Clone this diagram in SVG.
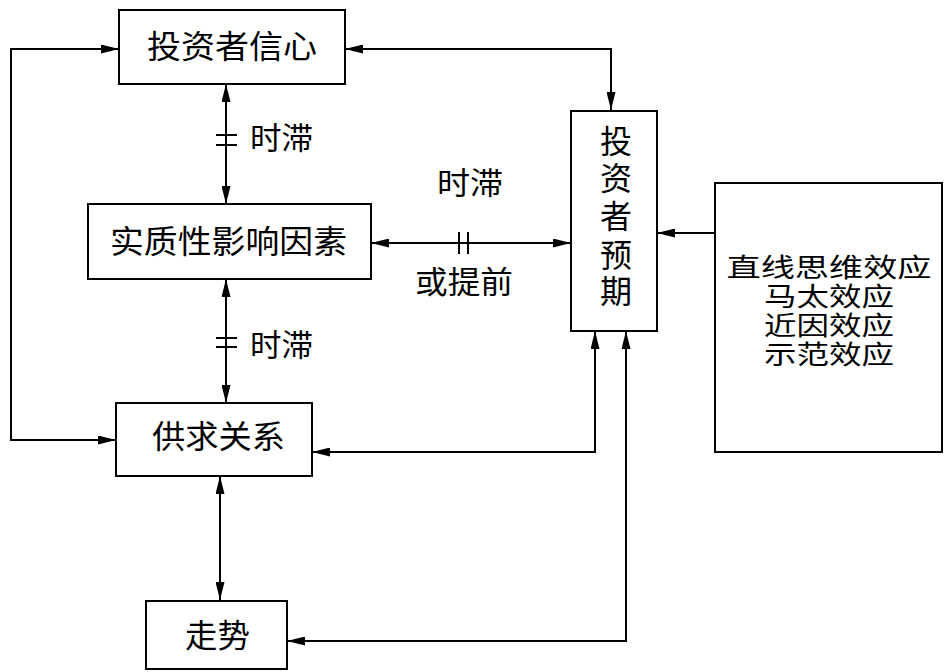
<svg xmlns="http://www.w3.org/2000/svg" width="945" height="672" viewBox="0 0 945 672">
<defs>
<style>
.box{fill:#fff;stroke:#000;stroke-width:2}
.ln{fill:none;stroke:#000;stroke-width:2}
.t{font-family:"Liberation Serif","Noto Sans CJK SC",serif;fill:#000;text-anchor:middle;dominant-baseline:central}
</style>
<marker id="ah" markerUnits="userSpaceOnUse" viewBox="0 0 18 9" refX="18" refY="4.5" markerWidth="18" markerHeight="9" orient="auto-start-reverse">
<path d="M0,0 L18,4.5 L0,9 z" fill="#000"/>
</marker>
</defs>
<rect width="945" height="672" fill="#fff"/>
<g id="connectors">
<path class="ln" d="M119,49 L11,49 L11,440 L116,440" marker-start="url(#ah)" marker-end="url(#ah)"/>
<path class="ln" d="M345,49 L611,49 L611,110" marker-start="url(#ah)" marker-end="url(#ah)"/>
<path class="ln" d="M226,84 L226,204" marker-start="url(#ah)" marker-end="url(#ah)"/>
<path class="ln" d="M226,279 L226,403" marker-start="url(#ah)" marker-end="url(#ah)"/>
<path class="ln" d="M371,243 L571,243" marker-start="url(#ah)" marker-end="url(#ah)"/>
<path class="ln" d="M312,452 L595,452 L595,331" marker-start="url(#ah)" marker-end="url(#ah)"/>
<path class="ln" d="M220,476 L220,600" marker-start="url(#ah)" marker-end="url(#ah)"/>
<path class="ln" d="M287,641 L626,641 L626,331" marker-start="url(#ah)" marker-end="url(#ah)"/>
<path class="ln" d="M715,233 L657,233" marker-end="url(#ah)"/>
<path class="ln" d="M216,135 H237 M216,145 H237 M216,338 H237 M216,347 H237 M459,232 V254 M468,232 V254"/>
<text class="t" x="281.5" y="138" font-size="31" textLength="63" lengthAdjust="spacingAndGlyphs">时滞</text>
<text class="t" x="281.5" y="345" font-size="31" textLength="63" lengthAdjust="spacingAndGlyphs">时滞</text>
<text class="t" x="470" y="183" font-size="31" textLength="66" lengthAdjust="spacingAndGlyphs">时滞</text>
<text class="t" x="464" y="282" font-size="31" textLength="98" lengthAdjust="spacingAndGlyphs">或提前</text>
</g>
<g id="n1">
<rect class="box" x="119" y="10" width="226" height="74"/>
<text class="t" x="232" y="47" font-size="32" textLength="170" lengthAdjust="spacingAndGlyphs">投资者信心</text>
</g>
<g id="n2">
<rect class="box" x="88" y="204" width="283" height="75"/>
<text class="t" x="228.5" y="242" font-size="32" textLength="237" lengthAdjust="spacingAndGlyphs">实质性影响因素</text>
</g>
<g id="n3">
<rect class="box" x="116" y="403" width="196" height="73"/>
<text class="t" x="218.5" y="437" font-size="32" textLength="133" lengthAdjust="spacingAndGlyphs">供求关系</text>
</g>
<g id="n4">
<rect class="box" x="146" y="601" width="141" height="68"/>
<text class="t" x="217.5" y="636" font-size="32" textLength="65" lengthAdjust="spacingAndGlyphs">走势</text>
</g>
<g id="n5">
<rect class="box" x="571" y="111" width="86" height="220"/>
<text class="t" x="616" y="142" font-size="32">投</text>
<text class="t" x="616" y="179" font-size="32">资</text>
<text class="t" x="616" y="217" font-size="32">者</text>
<text class="t" x="616" y="256" font-size="32">预</text>
<text class="t" x="616" y="292" font-size="32">期</text>
</g>
<g id="n6">
<rect class="box" x="715" y="183" width="227" height="269"/>
<text class="t" x="829" y="268" font-size="26" textLength="205" lengthAdjust="spacingAndGlyphs">直线思维效应</text>
<text class="t" x="829" y="297" font-size="26" textLength="130" lengthAdjust="spacingAndGlyphs">马太效应</text>
<text class="t" x="829" y="326" font-size="26" textLength="130" lengthAdjust="spacingAndGlyphs">近因效应</text>
<text class="t" x="829" y="355" font-size="26" textLength="130" lengthAdjust="spacingAndGlyphs">示范效应</text>
</g>
</svg>
